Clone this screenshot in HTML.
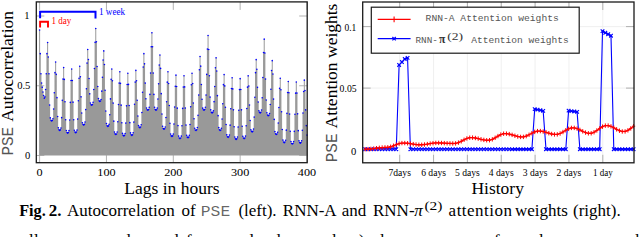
<!DOCTYPE html>
<html><head><meta charset="utf-8"><style>
html,body{margin:0;padding:0;background:#fff;width:640px;height:237px;overflow:hidden}
svg{display:block}

</style></head><body>
<svg width="640" height="237" viewBox="0 0 640 237">
<rect width="640" height="237" fill="#fff"/>
<path d="M39.10 155.50V29.95h1.0V155.50zM39.77 155.50V53.67h1.0V155.50zM40.44 155.50V73.75h1.0V155.50zM41.11 155.50V82.96h1.0V155.50zM41.77 155.50V87.14h1.0V155.50zM42.44 155.50V92.03h1.0V155.50zM43.11 155.50V95.52h1.0V155.50zM43.78 155.50V98.31h1.0V155.50zM44.45 155.50V96.91h1.0V155.50zM45.12 155.50V89.52h1.0V155.50zM45.79 155.50V73.75h1.0V155.50zM46.45 155.50V53.67h1.0V155.50zM47.12 155.50V42.50h1.0V155.50zM47.79 155.50V57.01h1.0V155.50zM48.46 155.50V73.75h1.0V155.50zM49.13 155.50V104.94h1.0V155.50zM49.80 155.50V117.90h1.0V155.50zM50.46 155.50V120.26h1.0V155.50zM51.13 155.50V121.04h1.0V155.50zM51.80 155.50V120.45h1.0V155.50zM52.47 155.50V118.68h1.0V155.50zM53.14 155.50V108.95h1.0V155.50zM53.81 155.50V92.72h1.0V155.50zM54.48 155.50V72.66h1.0V155.50zM55.14 155.50V62.03h1.0V155.50zM55.81 155.50V74.36h1.0V155.50zM56.48 155.50V97.65h1.0V155.50zM57.15 155.50V116.49h1.0V155.50zM57.82 155.50V127.79h1.0V155.50zM58.49 155.50V129.84h1.0V155.50zM59.16 155.50V130.53h1.0V155.50zM59.82 155.50V129.90h1.0V155.50zM60.49 155.50V128.01h1.0V155.50zM61.16 155.50V117.63h1.0V155.50zM61.83 155.50V100.33h1.0V155.50zM62.50 155.50V78.94h1.0V155.50zM63.17 155.50V67.61h1.0V155.50zM63.83 155.50V79.42h1.0V155.50zM64.50 155.50V101.71h1.0V155.50zM65.17 155.50V119.74h1.0V155.50zM65.84 155.50V130.56h1.0V155.50zM66.51 155.50V132.52h1.0V155.50zM67.18 155.50V133.18h1.0V155.50zM67.85 155.50V132.54h1.0V155.50zM68.51 155.50V130.61h1.0V155.50zM69.18 155.50V120.03h1.0V155.50zM69.85 155.50V102.38h1.0V155.50zM70.52 155.50V80.56h1.0V155.50zM71.19 155.50V69.01h1.0V155.50zM71.86 155.50V80.49h1.0V155.50zM72.53 155.50V102.16h1.0V155.50zM73.19 155.50V119.69h1.0V155.50zM73.86 155.50V130.21h1.0V155.50zM74.53 155.50V132.12h1.0V155.50zM75.20 155.50V132.76h1.0V155.50zM75.87 155.50V132.10h1.0V155.50zM76.54 155.50V130.10h1.0V155.50zM77.20 155.50V119.12h1.0V155.50zM77.87 155.50V100.82h1.0V155.50zM78.54 155.50V78.20h1.0V155.50zM79.21 155.50V66.22h1.0V155.50zM79.88 155.50V76.82h1.0V155.50zM80.55 155.50V96.83h1.0V155.50zM81.22 155.50V113.02h1.0V155.50zM81.88 155.50V122.73h1.0V155.50zM82.55 155.50V124.50h1.0V155.50zM83.22 155.50V125.09h1.0V155.50zM83.89 155.50V124.33h1.0V155.50zM84.56 155.50V122.06h1.0V155.50zM85.23 155.50V109.59h1.0V155.50zM85.90 155.50V88.80h1.0V155.50zM86.56 155.50V63.09h1.0V155.50zM87.23 155.50V49.48h1.0V155.50zM87.90 155.50V59.52h1.0V155.50zM88.57 155.50V78.50h1.0V155.50zM89.24 155.50V93.84h1.0V155.50zM89.91 155.50V103.05h1.0V155.50zM90.57 155.50V104.72h1.0V155.50zM91.24 155.50V105.28h1.0V155.50zM91.91 155.50V104.51h1.0V155.50zM92.58 155.50V102.21h1.0V155.50zM93.25 155.50V89.55h1.0V155.50zM93.92 155.50V68.45h1.0V155.50zM94.59 155.50V42.37h1.0V155.50zM95.25 155.50V28.56h1.0V155.50zM95.92 155.50V41.69h1.0V155.50zM96.59 155.50V66.49h1.0V155.50zM97.26 155.50V86.56h1.0V155.50zM97.93 155.50V98.60h1.0V155.50zM98.60 155.50V100.78h1.0V155.50zM99.27 155.50V101.51h1.0V155.50zM99.93 155.50V101.01h1.0V155.50zM100.60 155.50V99.49h1.0V155.50zM101.27 155.50V91.13h1.0V155.50zM101.94 155.50V77.21h1.0V155.50zM102.61 155.50V59.99h1.0V155.50zM103.28 155.50V50.88h1.0V155.50zM103.94 155.50V64.48h1.0V155.50zM104.61 155.50V90.19h1.0V155.50zM105.28 155.50V110.98h1.0V155.50zM105.95 155.50V123.46h1.0V155.50zM106.62 155.50V125.73h1.0V155.50zM107.29 155.50V126.48h1.0V155.50zM107.96 155.50V125.91h1.0V155.50zM108.62 155.50V124.19h1.0V155.50zM109.29 155.50V114.70h1.0V155.50zM109.96 155.50V98.90h1.0V155.50zM110.63 155.50V79.36h1.0V155.50zM111.30 155.50V69.01h1.0V155.50zM111.97 155.50V80.81h1.0V155.50zM112.63 155.50V103.10h1.0V155.50zM113.30 155.50V121.13h1.0V155.50zM113.97 155.50V131.95h1.0V155.50zM114.64 155.50V133.92h1.0V155.50zM115.31 155.50V134.57h1.0V155.50zM115.98 155.50V133.95h1.0V155.50zM116.65 155.50V132.06h1.0V155.50zM117.31 155.50V121.71h1.0V155.50zM117.98 155.50V104.44h1.0V155.50zM118.65 155.50V83.10h1.0V155.50zM119.32 155.50V71.80h1.0V155.50zM119.99 155.50V83.35h1.0V155.50zM120.66 155.50V105.17h1.0V155.50zM121.33 155.50V122.82h1.0V155.50zM121.99 155.50V133.40h1.0V155.50zM122.66 155.50V135.33h1.0V155.50zM123.33 155.50V135.97h1.0V155.50zM124.00 155.50V135.34h1.0V155.50zM124.67 155.50V133.46h1.0V155.50zM125.34 155.50V123.10h1.0V155.50zM126.00 155.50V105.84h1.0V155.50zM126.67 155.50V84.49h1.0V155.50zM127.34 155.50V73.20h1.0V155.50zM128.01 155.50V84.39h1.0V155.50zM128.68 155.50V105.55h1.0V155.50zM129.35 155.50V122.66h1.0V155.50zM130.02 155.50V132.92h1.0V155.50zM130.68 155.50V134.79h1.0V155.50zM131.35 155.50V135.41h1.0V155.50zM132.02 155.50V134.76h1.0V155.50zM132.69 155.50V132.81h1.0V155.50zM133.36 155.50V122.09h1.0V155.50zM134.03 155.50V104.21h1.0V155.50zM134.70 155.50V82.11h1.0V155.50zM135.36 155.50V70.41h1.0V155.50zM136.03 155.50V80.73h1.0V155.50zM136.70 155.50V100.22h1.0V155.50zM137.37 155.50V115.99h1.0V155.50zM138.04 155.50V125.45h1.0V155.50zM138.71 155.50V127.17h1.0V155.50zM139.38 155.50V127.74h1.0V155.50zM140.04 155.50V127.00h1.0V155.50zM140.71 155.50V124.78h1.0V155.50zM141.38 155.50V112.55h1.0V155.50zM142.05 155.50V92.18h1.0V155.50zM142.72 155.50V67.00h1.0V155.50zM143.39 155.50V53.67h1.0V155.50zM144.05 155.50V63.86h1.0V155.50zM144.72 155.50V83.12h1.0V155.50zM145.39 155.50V98.69h1.0V155.50zM146.06 155.50V108.04h1.0V155.50zM146.73 155.50V109.74h1.0V155.50zM147.40 155.50V110.30h1.0V155.50zM148.07 155.50V109.53h1.0V155.50zM148.73 155.50V107.20h1.0V155.50zM149.40 155.50V94.40h1.0V155.50zM150.07 155.50V73.07h1.0V155.50zM150.74 155.50V46.70h1.0V155.50zM151.41 155.50V32.74h1.0V155.50zM152.08 155.50V46.70h1.0V155.50zM152.75 155.50V73.07h1.0V155.50zM153.41 155.50V94.40h1.0V155.50zM154.08 155.50V107.20h1.0V155.50zM154.75 155.50V109.53h1.0V155.50zM155.42 155.50V110.30h1.0V155.50zM156.09 155.50V109.75h1.0V155.50zM156.76 155.50V108.09h1.0V155.50zM157.42 155.50V98.98h1.0V155.50zM158.09 155.50V83.79h1.0V155.50zM158.76 155.50V65.00h1.0V155.50zM159.43 155.50V55.06h1.0V155.50zM160.10 155.50V68.42h1.0V155.50zM160.77 155.50V93.65h1.0V155.50zM161.44 155.50V114.06h1.0V155.50zM162.10 155.50V126.31h1.0V155.50zM162.77 155.50V128.53h1.0V155.50zM163.44 155.50V129.27h1.0V155.50zM164.11 155.50V128.70h1.0V155.50zM164.78 155.50V126.98h1.0V155.50zM165.45 155.50V117.49h1.0V155.50zM166.12 155.50V101.69h1.0V155.50zM166.78 155.50V82.15h1.0V155.50zM167.45 155.50V71.80h1.0V155.50zM168.12 155.50V83.45h1.0V155.50zM168.79 155.50V105.46h1.0V155.50zM169.46 155.50V123.26h1.0V155.50zM170.13 155.50V133.94h1.0V155.50zM170.79 155.50V135.88h1.0V155.50zM171.46 155.50V136.53h1.0V155.50zM172.13 155.50V135.91h1.0V155.50zM172.80 155.50V134.07h1.0V155.50zM173.47 155.50V123.95h1.0V155.50zM174.14 155.50V107.07h1.0V155.50zM174.81 155.50V86.20h1.0V155.50zM175.47 155.50V75.15h1.0V155.50zM176.14 155.50V86.57h1.0V155.50zM176.81 155.50V108.15h1.0V155.50zM177.48 155.50V125.61h1.0V155.50zM178.15 155.50V136.08h1.0V155.50zM178.82 155.50V137.99h1.0V155.50zM179.48 155.50V138.62h1.0V155.50zM180.15 155.50V137.99h1.0V155.50zM180.82 155.50V136.10h1.0V155.50zM181.49 155.50V125.72h1.0V155.50zM182.16 155.50V108.42h1.0V155.50zM182.83 155.50V87.03h1.0V155.50zM183.50 155.50V75.71h1.0V155.50zM184.16 155.50V86.88h1.0V155.50zM184.83 155.50V107.99h1.0V155.50zM185.50 155.50V125.06h1.0V155.50zM186.17 155.50V135.30h1.0V155.50zM186.84 155.50V137.16h1.0V155.50zM187.51 155.50V137.78h1.0V155.50zM188.18 155.50V137.14h1.0V155.50zM188.84 155.50V135.20h1.0V155.50zM189.51 155.50V124.54h1.0V155.50zM190.18 155.50V106.78h1.0V155.50zM190.85 155.50V84.82h1.0V155.50zM191.52 155.50V73.20h1.0V155.50zM192.19 155.50V83.52h1.0V155.50zM192.85 155.50V103.01h1.0V155.50zM193.52 155.50V118.78h1.0V155.50zM194.19 155.50V128.24h1.0V155.50zM194.86 155.50V129.96h1.0V155.50zM195.53 155.50V130.53h1.0V155.50zM196.20 155.50V129.79h1.0V155.50zM196.87 155.50V127.57h1.0V155.50zM197.53 155.50V115.34h1.0V155.50zM198.20 155.50V94.97h1.0V155.50zM198.87 155.50V69.79h1.0V155.50zM199.54 155.50V56.45h1.0V155.50zM200.21 155.50V66.15h1.0V155.50zM200.88 155.50V84.46h1.0V155.50zM201.55 155.50V99.26h1.0V155.50zM202.21 155.50V108.15h1.0V155.50zM202.88 155.50V109.76h1.0V155.50zM203.55 155.50V110.30h1.0V155.50zM204.22 155.50V109.55h1.0V155.50zM204.89 155.50V107.31h1.0V155.50zM205.56 155.50V94.97h1.0V155.50zM206.22 155.50V74.41h1.0V155.50zM206.89 155.50V48.99h1.0V155.50zM207.56 155.50V35.53h1.0V155.50zM208.23 155.50V49.47h1.0V155.50zM208.90 155.50V75.79h1.0V155.50zM209.57 155.50V97.08h1.0V155.50zM210.24 155.50V109.86h1.0V155.50zM210.90 155.50V112.18h1.0V155.50zM211.57 155.50V112.95h1.0V155.50zM212.24 155.50V112.40h1.0V155.50zM212.91 155.50V110.75h1.0V155.50zM213.58 155.50V101.66h1.0V155.50zM214.25 155.50V86.50h1.0V155.50zM214.92 155.50V67.77h1.0V155.50zM215.58 155.50V57.85h1.0V155.50zM216.25 155.50V70.93h1.0V155.50zM216.92 155.50V95.64h1.0V155.50zM217.59 155.50V115.63h1.0V155.50zM218.26 155.50V127.62h1.0V155.50zM218.93 155.50V129.80h1.0V155.50zM219.59 155.50V130.53h1.0V155.50zM220.26 155.50V129.97h1.0V155.50zM220.93 155.50V128.29h1.0V155.50zM221.60 155.50V119.06h1.0V155.50zM222.27 155.50V103.68h1.0V155.50zM222.94 155.50V84.66h1.0V155.50zM223.61 155.50V74.59h1.0V155.50zM224.27 155.50V85.89h1.0V155.50zM224.94 155.50V107.23h1.0V155.50zM225.61 155.50V124.50h1.0V155.50zM226.28 155.50V134.85h1.0V155.50zM226.95 155.50V136.74h1.0V155.50zM227.62 155.50V137.37h1.0V155.50zM228.29 155.50V136.77h1.0V155.50zM228.95 155.50V134.98h1.0V155.50zM229.62 155.50V125.15h1.0V155.50zM230.29 155.50V108.77h1.0V155.50zM230.96 155.50V88.52h1.0V155.50zM231.63 155.50V77.80h1.0V155.50zM232.30 155.50V88.90h1.0V155.50zM232.97 155.50V109.86h1.0V155.50zM233.63 155.50V126.82h1.0V155.50zM234.30 155.50V136.99h1.0V155.50zM234.97 155.50V138.84h1.0V155.50zM235.64 155.50V139.46h1.0V155.50zM236.31 155.50V138.85h1.0V155.50zM236.98 155.50V137.02h1.0V155.50zM237.64 155.50V126.99h1.0V155.50zM238.31 155.50V110.26h1.0V155.50zM238.98 155.50V89.58h1.0V155.50zM239.65 155.50V78.64h1.0V155.50zM240.32 155.50V89.43h1.0V155.50zM240.99 155.50V109.83h1.0V155.50zM241.66 155.50V126.32h1.0V155.50zM242.32 155.50V136.22h1.0V155.50zM242.99 155.50V138.02h1.0V155.50zM243.66 155.50V138.62h1.0V155.50zM244.33 155.50V137.99h1.0V155.50zM245.00 155.50V136.11h1.0V155.50zM245.67 155.50V125.75h1.0V155.50zM246.33 155.50V108.49h1.0V155.50zM247.00 155.50V87.15h1.0V155.50zM247.67 155.50V75.85h1.0V155.50zM248.34 155.50V85.94h1.0V155.50zM249.01 155.50V105.01h1.0V155.50zM249.68 155.50V120.43h1.0V155.50zM250.35 155.50V129.68h1.0V155.50zM251.01 155.50V131.36h1.0V155.50zM251.68 155.50V131.92h1.0V155.50zM252.35 155.50V131.20h1.0V155.50zM253.02 155.50V129.03h1.0V155.50zM253.69 155.50V117.11h1.0V155.50zM254.36 155.50V97.24h1.0V155.50zM255.03 155.50V72.67h1.0V155.50zM255.69 155.50V59.66h1.0V155.50zM256.36 155.50V69.26h1.0V155.50zM257.03 155.50V87.37h1.0V155.50zM257.70 155.50V102.03h1.0V155.50zM258.37 155.50V110.82h1.0V155.50zM259.04 155.50V112.42h1.0V155.50zM259.70 155.50V112.95h1.0V155.50zM260.37 155.50V112.21h1.0V155.50zM261.04 155.50V110.00h1.0V155.50zM261.71 155.50V97.82h1.0V155.50zM262.38 155.50V77.53h1.0V155.50zM263.05 155.50V52.44h1.0V155.50zM263.72 155.50V39.16h1.0V155.50zM264.38 155.50V52.94h1.0V155.50zM265.05 155.50V78.98h1.0V155.50zM265.72 155.50V100.04h1.0V155.50zM266.39 155.50V112.68h1.0V155.50zM267.06 155.50V114.98h1.0V155.50zM267.73 155.50V115.74h1.0V155.50zM268.40 155.50V115.19h1.0V155.50zM269.06 155.50V113.54h1.0V155.50zM269.73 155.50V104.45h1.0V155.50zM270.40 155.50V89.29h1.0V155.50zM271.07 155.50V70.56h1.0V155.50zM271.74 155.50V60.64h1.0V155.50zM272.41 155.50V73.95h1.0V155.50zM273.07 155.50V99.09h1.0V155.50zM273.74 155.50V119.42h1.0V155.50zM274.41 155.50V131.62h1.0V155.50zM275.08 155.50V133.84h1.0V155.50zM275.75 155.50V134.57h1.0V155.50zM276.42 155.50V134.01h1.0V155.50zM277.09 155.50V132.32h1.0V155.50zM277.75 155.50V123.02h1.0V155.50zM278.42 155.50V107.52h1.0V155.50zM279.09 155.50V88.36h1.0V155.50zM279.76 155.50V78.22h1.0V155.50zM280.43 155.50V89.82h1.0V155.50zM281.10 155.50V111.73h1.0V155.50zM281.77 155.50V129.45h1.0V155.50zM282.43 155.50V140.09h1.0V155.50zM283.10 155.50V142.02h1.0V155.50zM283.77 155.50V142.67h1.0V155.50zM284.44 155.50V142.05h1.0V155.50zM285.11 155.50V140.22h1.0V155.50zM285.78 155.50V130.14h1.0V155.50zM286.44 155.50V113.34h1.0V155.50zM287.11 155.50V92.56h1.0V155.50zM287.78 155.50V81.56h1.0V155.50zM288.45 155.50V92.81h1.0V155.50zM289.12 155.50V114.06h1.0V155.50zM289.79 155.50V131.25h1.0V155.50zM290.46 155.50V141.56h1.0V155.50zM291.12 155.50V143.44h1.0V155.50zM291.79 155.50V144.06h1.0V155.50zM292.46 155.50V143.44h1.0V155.50zM293.13 155.50V141.58h1.0V155.50zM293.80 155.50V131.34h1.0V155.50zM294.47 155.50V114.26h1.0V155.50zM295.14 155.50V93.16h1.0V155.50zM295.80 155.50V81.98h1.0V155.50zM296.47 155.50V93.01h1.0V155.50zM297.14 155.50V113.83h1.0V155.50zM297.81 155.50V130.67h1.0V155.50zM298.48 155.50V140.77h1.0V155.50zM299.15 155.50V142.61h1.0V155.50zM299.81 155.50V143.22h1.0V155.50zM300.48 155.50V142.59h1.0V155.50zM301.15 155.50V140.70h1.0V155.50zM301.82 155.50V130.30h1.0V155.50zM302.49 155.50V112.96h1.0V155.50zM303.16 155.50V91.52h1.0V155.50zM303.83 155.50V80.17h1.0V155.50zM304.49 155.50V90.47h1.0V155.50zM305.16 155.50V109.91h1.0V155.50zM305.83 155.50V125.64h1.0V155.50zM306.50 155.50V135.08h1.0V155.50z" fill="#999999"/>
<path d="M38.80 29.95a0.8 0.8 0 1 0 1.6 0a0.8 0.8 0 1 0 -1.6 0M39.47 53.67a0.8 0.8 0 1 0 1.6 0a0.8 0.8 0 1 0 -1.6 0M40.14 73.75a0.8 0.8 0 1 0 1.6 0a0.8 0.8 0 1 0 -1.6 0M40.81 82.96a0.8 0.8 0 1 0 1.6 0a0.8 0.8 0 1 0 -1.6 0M41.47 87.14a0.8 0.8 0 1 0 1.6 0a0.8 0.8 0 1 0 -1.6 0M42.14 92.03a0.8 0.8 0 1 0 1.6 0a0.8 0.8 0 1 0 -1.6 0M42.81 95.52a0.8 0.8 0 1 0 1.6 0a0.8 0.8 0 1 0 -1.6 0M43.48 98.31a0.8 0.8 0 1 0 1.6 0a0.8 0.8 0 1 0 -1.6 0M44.15 96.91a0.8 0.8 0 1 0 1.6 0a0.8 0.8 0 1 0 -1.6 0M44.82 89.52a0.8 0.8 0 1 0 1.6 0a0.8 0.8 0 1 0 -1.6 0M45.49 73.75a0.8 0.8 0 1 0 1.6 0a0.8 0.8 0 1 0 -1.6 0M46.15 53.67a0.8 0.8 0 1 0 1.6 0a0.8 0.8 0 1 0 -1.6 0M46.82 42.50a0.8 0.8 0 1 0 1.6 0a0.8 0.8 0 1 0 -1.6 0M47.49 57.01a0.8 0.8 0 1 0 1.6 0a0.8 0.8 0 1 0 -1.6 0M48.16 73.75a0.8 0.8 0 1 0 1.6 0a0.8 0.8 0 1 0 -1.6 0M48.83 104.94a0.8 0.8 0 1 0 1.6 0a0.8 0.8 0 1 0 -1.6 0M49.50 117.90a0.8 0.8 0 1 0 1.6 0a0.8 0.8 0 1 0 -1.6 0M50.16 120.26a0.8 0.8 0 1 0 1.6 0a0.8 0.8 0 1 0 -1.6 0M50.83 121.04a0.8 0.8 0 1 0 1.6 0a0.8 0.8 0 1 0 -1.6 0M51.50 120.45a0.8 0.8 0 1 0 1.6 0a0.8 0.8 0 1 0 -1.6 0M52.17 118.68a0.8 0.8 0 1 0 1.6 0a0.8 0.8 0 1 0 -1.6 0M52.84 108.95a0.8 0.8 0 1 0 1.6 0a0.8 0.8 0 1 0 -1.6 0M53.51 92.72a0.8 0.8 0 1 0 1.6 0a0.8 0.8 0 1 0 -1.6 0M54.18 72.66a0.8 0.8 0 1 0 1.6 0a0.8 0.8 0 1 0 -1.6 0M54.84 62.03a0.8 0.8 0 1 0 1.6 0a0.8 0.8 0 1 0 -1.6 0M55.51 74.36a0.8 0.8 0 1 0 1.6 0a0.8 0.8 0 1 0 -1.6 0M56.18 97.65a0.8 0.8 0 1 0 1.6 0a0.8 0.8 0 1 0 -1.6 0M56.85 116.49a0.8 0.8 0 1 0 1.6 0a0.8 0.8 0 1 0 -1.6 0M57.52 127.79a0.8 0.8 0 1 0 1.6 0a0.8 0.8 0 1 0 -1.6 0M58.19 129.84a0.8 0.8 0 1 0 1.6 0a0.8 0.8 0 1 0 -1.6 0M58.86 130.53a0.8 0.8 0 1 0 1.6 0a0.8 0.8 0 1 0 -1.6 0M59.52 129.90a0.8 0.8 0 1 0 1.6 0a0.8 0.8 0 1 0 -1.6 0M60.19 128.01a0.8 0.8 0 1 0 1.6 0a0.8 0.8 0 1 0 -1.6 0M60.86 117.63a0.8 0.8 0 1 0 1.6 0a0.8 0.8 0 1 0 -1.6 0M61.53 100.33a0.8 0.8 0 1 0 1.6 0a0.8 0.8 0 1 0 -1.6 0M62.20 78.94a0.8 0.8 0 1 0 1.6 0a0.8 0.8 0 1 0 -1.6 0M62.87 67.61a0.8 0.8 0 1 0 1.6 0a0.8 0.8 0 1 0 -1.6 0M63.53 79.42a0.8 0.8 0 1 0 1.6 0a0.8 0.8 0 1 0 -1.6 0M64.20 101.71a0.8 0.8 0 1 0 1.6 0a0.8 0.8 0 1 0 -1.6 0M64.87 119.74a0.8 0.8 0 1 0 1.6 0a0.8 0.8 0 1 0 -1.6 0M65.54 130.56a0.8 0.8 0 1 0 1.6 0a0.8 0.8 0 1 0 -1.6 0M66.21 132.52a0.8 0.8 0 1 0 1.6 0a0.8 0.8 0 1 0 -1.6 0M66.88 133.18a0.8 0.8 0 1 0 1.6 0a0.8 0.8 0 1 0 -1.6 0M67.55 132.54a0.8 0.8 0 1 0 1.6 0a0.8 0.8 0 1 0 -1.6 0M68.21 130.61a0.8 0.8 0 1 0 1.6 0a0.8 0.8 0 1 0 -1.6 0M68.88 120.03a0.8 0.8 0 1 0 1.6 0a0.8 0.8 0 1 0 -1.6 0M69.55 102.38a0.8 0.8 0 1 0 1.6 0a0.8 0.8 0 1 0 -1.6 0M70.22 80.56a0.8 0.8 0 1 0 1.6 0a0.8 0.8 0 1 0 -1.6 0M70.89 69.01a0.8 0.8 0 1 0 1.6 0a0.8 0.8 0 1 0 -1.6 0M71.56 80.49a0.8 0.8 0 1 0 1.6 0a0.8 0.8 0 1 0 -1.6 0M72.23 102.16a0.8 0.8 0 1 0 1.6 0a0.8 0.8 0 1 0 -1.6 0M72.89 119.69a0.8 0.8 0 1 0 1.6 0a0.8 0.8 0 1 0 -1.6 0M73.56 130.21a0.8 0.8 0 1 0 1.6 0a0.8 0.8 0 1 0 -1.6 0M74.23 132.12a0.8 0.8 0 1 0 1.6 0a0.8 0.8 0 1 0 -1.6 0M74.90 132.76a0.8 0.8 0 1 0 1.6 0a0.8 0.8 0 1 0 -1.6 0M75.57 132.10a0.8 0.8 0 1 0 1.6 0a0.8 0.8 0 1 0 -1.6 0M76.24 130.10a0.8 0.8 0 1 0 1.6 0a0.8 0.8 0 1 0 -1.6 0M76.90 119.12a0.8 0.8 0 1 0 1.6 0a0.8 0.8 0 1 0 -1.6 0M77.57 100.82a0.8 0.8 0 1 0 1.6 0a0.8 0.8 0 1 0 -1.6 0M78.24 78.20a0.8 0.8 0 1 0 1.6 0a0.8 0.8 0 1 0 -1.6 0M78.91 66.22a0.8 0.8 0 1 0 1.6 0a0.8 0.8 0 1 0 -1.6 0M79.58 76.82a0.8 0.8 0 1 0 1.6 0a0.8 0.8 0 1 0 -1.6 0M80.25 96.83a0.8 0.8 0 1 0 1.6 0a0.8 0.8 0 1 0 -1.6 0M80.92 113.02a0.8 0.8 0 1 0 1.6 0a0.8 0.8 0 1 0 -1.6 0M81.58 122.73a0.8 0.8 0 1 0 1.6 0a0.8 0.8 0 1 0 -1.6 0M82.25 124.50a0.8 0.8 0 1 0 1.6 0a0.8 0.8 0 1 0 -1.6 0M82.92 125.09a0.8 0.8 0 1 0 1.6 0a0.8 0.8 0 1 0 -1.6 0M83.59 124.33a0.8 0.8 0 1 0 1.6 0a0.8 0.8 0 1 0 -1.6 0M84.26 122.06a0.8 0.8 0 1 0 1.6 0a0.8 0.8 0 1 0 -1.6 0M84.93 109.59a0.8 0.8 0 1 0 1.6 0a0.8 0.8 0 1 0 -1.6 0M85.60 88.80a0.8 0.8 0 1 0 1.6 0a0.8 0.8 0 1 0 -1.6 0M86.26 63.09a0.8 0.8 0 1 0 1.6 0a0.8 0.8 0 1 0 -1.6 0M86.93 49.48a0.8 0.8 0 1 0 1.6 0a0.8 0.8 0 1 0 -1.6 0M87.60 59.52a0.8 0.8 0 1 0 1.6 0a0.8 0.8 0 1 0 -1.6 0M88.27 78.50a0.8 0.8 0 1 0 1.6 0a0.8 0.8 0 1 0 -1.6 0M88.94 93.84a0.8 0.8 0 1 0 1.6 0a0.8 0.8 0 1 0 -1.6 0M89.61 103.05a0.8 0.8 0 1 0 1.6 0a0.8 0.8 0 1 0 -1.6 0M90.27 104.72a0.8 0.8 0 1 0 1.6 0a0.8 0.8 0 1 0 -1.6 0M90.94 105.28a0.8 0.8 0 1 0 1.6 0a0.8 0.8 0 1 0 -1.6 0M91.61 104.51a0.8 0.8 0 1 0 1.6 0a0.8 0.8 0 1 0 -1.6 0M92.28 102.21a0.8 0.8 0 1 0 1.6 0a0.8 0.8 0 1 0 -1.6 0M92.95 89.55a0.8 0.8 0 1 0 1.6 0a0.8 0.8 0 1 0 -1.6 0M93.62 68.45a0.8 0.8 0 1 0 1.6 0a0.8 0.8 0 1 0 -1.6 0M94.29 42.37a0.8 0.8 0 1 0 1.6 0a0.8 0.8 0 1 0 -1.6 0M94.95 28.56a0.8 0.8 0 1 0 1.6 0a0.8 0.8 0 1 0 -1.6 0M95.62 41.69a0.8 0.8 0 1 0 1.6 0a0.8 0.8 0 1 0 -1.6 0M96.29 66.49a0.8 0.8 0 1 0 1.6 0a0.8 0.8 0 1 0 -1.6 0M96.96 86.56a0.8 0.8 0 1 0 1.6 0a0.8 0.8 0 1 0 -1.6 0M97.63 98.60a0.8 0.8 0 1 0 1.6 0a0.8 0.8 0 1 0 -1.6 0M98.30 100.78a0.8 0.8 0 1 0 1.6 0a0.8 0.8 0 1 0 -1.6 0M98.97 101.51a0.8 0.8 0 1 0 1.6 0a0.8 0.8 0 1 0 -1.6 0M99.63 101.01a0.8 0.8 0 1 0 1.6 0a0.8 0.8 0 1 0 -1.6 0M100.30 99.49a0.8 0.8 0 1 0 1.6 0a0.8 0.8 0 1 0 -1.6 0M100.97 91.13a0.8 0.8 0 1 0 1.6 0a0.8 0.8 0 1 0 -1.6 0M101.64 77.21a0.8 0.8 0 1 0 1.6 0a0.8 0.8 0 1 0 -1.6 0M102.31 59.99a0.8 0.8 0 1 0 1.6 0a0.8 0.8 0 1 0 -1.6 0M102.98 50.88a0.8 0.8 0 1 0 1.6 0a0.8 0.8 0 1 0 -1.6 0M103.64 64.48a0.8 0.8 0 1 0 1.6 0a0.8 0.8 0 1 0 -1.6 0M104.31 90.19a0.8 0.8 0 1 0 1.6 0a0.8 0.8 0 1 0 -1.6 0M104.98 110.98a0.8 0.8 0 1 0 1.6 0a0.8 0.8 0 1 0 -1.6 0M105.65 123.46a0.8 0.8 0 1 0 1.6 0a0.8 0.8 0 1 0 -1.6 0M106.32 125.73a0.8 0.8 0 1 0 1.6 0a0.8 0.8 0 1 0 -1.6 0M106.99 126.48a0.8 0.8 0 1 0 1.6 0a0.8 0.8 0 1 0 -1.6 0M107.66 125.91a0.8 0.8 0 1 0 1.6 0a0.8 0.8 0 1 0 -1.6 0M108.32 124.19a0.8 0.8 0 1 0 1.6 0a0.8 0.8 0 1 0 -1.6 0M108.99 114.70a0.8 0.8 0 1 0 1.6 0a0.8 0.8 0 1 0 -1.6 0M109.66 98.90a0.8 0.8 0 1 0 1.6 0a0.8 0.8 0 1 0 -1.6 0M110.33 79.36a0.8 0.8 0 1 0 1.6 0a0.8 0.8 0 1 0 -1.6 0M111.00 69.01a0.8 0.8 0 1 0 1.6 0a0.8 0.8 0 1 0 -1.6 0M111.67 80.81a0.8 0.8 0 1 0 1.6 0a0.8 0.8 0 1 0 -1.6 0M112.33 103.10a0.8 0.8 0 1 0 1.6 0a0.8 0.8 0 1 0 -1.6 0M113.00 121.13a0.8 0.8 0 1 0 1.6 0a0.8 0.8 0 1 0 -1.6 0M113.67 131.95a0.8 0.8 0 1 0 1.6 0a0.8 0.8 0 1 0 -1.6 0M114.34 133.92a0.8 0.8 0 1 0 1.6 0a0.8 0.8 0 1 0 -1.6 0M115.01 134.57a0.8 0.8 0 1 0 1.6 0a0.8 0.8 0 1 0 -1.6 0M115.68 133.95a0.8 0.8 0 1 0 1.6 0a0.8 0.8 0 1 0 -1.6 0M116.35 132.06a0.8 0.8 0 1 0 1.6 0a0.8 0.8 0 1 0 -1.6 0M117.01 121.71a0.8 0.8 0 1 0 1.6 0a0.8 0.8 0 1 0 -1.6 0M117.68 104.44a0.8 0.8 0 1 0 1.6 0a0.8 0.8 0 1 0 -1.6 0M118.35 83.10a0.8 0.8 0 1 0 1.6 0a0.8 0.8 0 1 0 -1.6 0M119.02 71.80a0.8 0.8 0 1 0 1.6 0a0.8 0.8 0 1 0 -1.6 0M119.69 83.35a0.8 0.8 0 1 0 1.6 0a0.8 0.8 0 1 0 -1.6 0M120.36 105.17a0.8 0.8 0 1 0 1.6 0a0.8 0.8 0 1 0 -1.6 0M121.03 122.82a0.8 0.8 0 1 0 1.6 0a0.8 0.8 0 1 0 -1.6 0M121.69 133.40a0.8 0.8 0 1 0 1.6 0a0.8 0.8 0 1 0 -1.6 0M122.36 135.33a0.8 0.8 0 1 0 1.6 0a0.8 0.8 0 1 0 -1.6 0M123.03 135.97a0.8 0.8 0 1 0 1.6 0a0.8 0.8 0 1 0 -1.6 0M123.70 135.34a0.8 0.8 0 1 0 1.6 0a0.8 0.8 0 1 0 -1.6 0M124.37 133.46a0.8 0.8 0 1 0 1.6 0a0.8 0.8 0 1 0 -1.6 0M125.04 123.10a0.8 0.8 0 1 0 1.6 0a0.8 0.8 0 1 0 -1.6 0M125.70 105.84a0.8 0.8 0 1 0 1.6 0a0.8 0.8 0 1 0 -1.6 0M126.37 84.49a0.8 0.8 0 1 0 1.6 0a0.8 0.8 0 1 0 -1.6 0M127.04 73.20a0.8 0.8 0 1 0 1.6 0a0.8 0.8 0 1 0 -1.6 0M127.71 84.39a0.8 0.8 0 1 0 1.6 0a0.8 0.8 0 1 0 -1.6 0M128.38 105.55a0.8 0.8 0 1 0 1.6 0a0.8 0.8 0 1 0 -1.6 0M129.05 122.66a0.8 0.8 0 1 0 1.6 0a0.8 0.8 0 1 0 -1.6 0M129.72 132.92a0.8 0.8 0 1 0 1.6 0a0.8 0.8 0 1 0 -1.6 0M130.38 134.79a0.8 0.8 0 1 0 1.6 0a0.8 0.8 0 1 0 -1.6 0M131.05 135.41a0.8 0.8 0 1 0 1.6 0a0.8 0.8 0 1 0 -1.6 0M131.72 134.76a0.8 0.8 0 1 0 1.6 0a0.8 0.8 0 1 0 -1.6 0M132.39 132.81a0.8 0.8 0 1 0 1.6 0a0.8 0.8 0 1 0 -1.6 0M133.06 122.09a0.8 0.8 0 1 0 1.6 0a0.8 0.8 0 1 0 -1.6 0M133.73 104.21a0.8 0.8 0 1 0 1.6 0a0.8 0.8 0 1 0 -1.6 0M134.40 82.11a0.8 0.8 0 1 0 1.6 0a0.8 0.8 0 1 0 -1.6 0M135.06 70.41a0.8 0.8 0 1 0 1.6 0a0.8 0.8 0 1 0 -1.6 0M135.73 80.73a0.8 0.8 0 1 0 1.6 0a0.8 0.8 0 1 0 -1.6 0M136.40 100.22a0.8 0.8 0 1 0 1.6 0a0.8 0.8 0 1 0 -1.6 0M137.07 115.99a0.8 0.8 0 1 0 1.6 0a0.8 0.8 0 1 0 -1.6 0M137.74 125.45a0.8 0.8 0 1 0 1.6 0a0.8 0.8 0 1 0 -1.6 0M138.41 127.17a0.8 0.8 0 1 0 1.6 0a0.8 0.8 0 1 0 -1.6 0M139.07 127.74a0.8 0.8 0 1 0 1.6 0a0.8 0.8 0 1 0 -1.6 0M139.74 127.00a0.8 0.8 0 1 0 1.6 0a0.8 0.8 0 1 0 -1.6 0M140.41 124.78a0.8 0.8 0 1 0 1.6 0a0.8 0.8 0 1 0 -1.6 0M141.08 112.55a0.8 0.8 0 1 0 1.6 0a0.8 0.8 0 1 0 -1.6 0M141.75 92.18a0.8 0.8 0 1 0 1.6 0a0.8 0.8 0 1 0 -1.6 0M142.42 67.00a0.8 0.8 0 1 0 1.6 0a0.8 0.8 0 1 0 -1.6 0M143.09 53.67a0.8 0.8 0 1 0 1.6 0a0.8 0.8 0 1 0 -1.6 0M143.75 63.86a0.8 0.8 0 1 0 1.6 0a0.8 0.8 0 1 0 -1.6 0M144.42 83.12a0.8 0.8 0 1 0 1.6 0a0.8 0.8 0 1 0 -1.6 0M145.09 98.69a0.8 0.8 0 1 0 1.6 0a0.8 0.8 0 1 0 -1.6 0M145.76 108.04a0.8 0.8 0 1 0 1.6 0a0.8 0.8 0 1 0 -1.6 0M146.43 109.74a0.8 0.8 0 1 0 1.6 0a0.8 0.8 0 1 0 -1.6 0M147.10 110.30a0.8 0.8 0 1 0 1.6 0a0.8 0.8 0 1 0 -1.6 0M147.77 109.53a0.8 0.8 0 1 0 1.6 0a0.8 0.8 0 1 0 -1.6 0M148.43 107.20a0.8 0.8 0 1 0 1.6 0a0.8 0.8 0 1 0 -1.6 0M149.10 94.40a0.8 0.8 0 1 0 1.6 0a0.8 0.8 0 1 0 -1.6 0M149.77 73.07a0.8 0.8 0 1 0 1.6 0a0.8 0.8 0 1 0 -1.6 0M150.44 46.70a0.8 0.8 0 1 0 1.6 0a0.8 0.8 0 1 0 -1.6 0M151.11 32.74a0.8 0.8 0 1 0 1.6 0a0.8 0.8 0 1 0 -1.6 0M151.78 46.70a0.8 0.8 0 1 0 1.6 0a0.8 0.8 0 1 0 -1.6 0M152.44 73.07a0.8 0.8 0 1 0 1.6 0a0.8 0.8 0 1 0 -1.6 0M153.11 94.40a0.8 0.8 0 1 0 1.6 0a0.8 0.8 0 1 0 -1.6 0M153.78 107.20a0.8 0.8 0 1 0 1.6 0a0.8 0.8 0 1 0 -1.6 0M154.45 109.53a0.8 0.8 0 1 0 1.6 0a0.8 0.8 0 1 0 -1.6 0M155.12 110.30a0.8 0.8 0 1 0 1.6 0a0.8 0.8 0 1 0 -1.6 0M155.79 109.75a0.8 0.8 0 1 0 1.6 0a0.8 0.8 0 1 0 -1.6 0M156.46 108.09a0.8 0.8 0 1 0 1.6 0a0.8 0.8 0 1 0 -1.6 0M157.12 98.98a0.8 0.8 0 1 0 1.6 0a0.8 0.8 0 1 0 -1.6 0M157.79 83.79a0.8 0.8 0 1 0 1.6 0a0.8 0.8 0 1 0 -1.6 0M158.46 65.00a0.8 0.8 0 1 0 1.6 0a0.8 0.8 0 1 0 -1.6 0M159.13 55.06a0.8 0.8 0 1 0 1.6 0a0.8 0.8 0 1 0 -1.6 0M159.80 68.42a0.8 0.8 0 1 0 1.6 0a0.8 0.8 0 1 0 -1.6 0M160.47 93.65a0.8 0.8 0 1 0 1.6 0a0.8 0.8 0 1 0 -1.6 0M161.14 114.06a0.8 0.8 0 1 0 1.6 0a0.8 0.8 0 1 0 -1.6 0M161.80 126.31a0.8 0.8 0 1 0 1.6 0a0.8 0.8 0 1 0 -1.6 0M162.47 128.53a0.8 0.8 0 1 0 1.6 0a0.8 0.8 0 1 0 -1.6 0M163.14 129.27a0.8 0.8 0 1 0 1.6 0a0.8 0.8 0 1 0 -1.6 0M163.81 128.70a0.8 0.8 0 1 0 1.6 0a0.8 0.8 0 1 0 -1.6 0M164.48 126.98a0.8 0.8 0 1 0 1.6 0a0.8 0.8 0 1 0 -1.6 0M165.15 117.49a0.8 0.8 0 1 0 1.6 0a0.8 0.8 0 1 0 -1.6 0M165.81 101.69a0.8 0.8 0 1 0 1.6 0a0.8 0.8 0 1 0 -1.6 0M166.48 82.15a0.8 0.8 0 1 0 1.6 0a0.8 0.8 0 1 0 -1.6 0M167.15 71.80a0.8 0.8 0 1 0 1.6 0a0.8 0.8 0 1 0 -1.6 0M167.82 83.45a0.8 0.8 0 1 0 1.6 0a0.8 0.8 0 1 0 -1.6 0M168.49 105.46a0.8 0.8 0 1 0 1.6 0a0.8 0.8 0 1 0 -1.6 0M169.16 123.26a0.8 0.8 0 1 0 1.6 0a0.8 0.8 0 1 0 -1.6 0M169.83 133.94a0.8 0.8 0 1 0 1.6 0a0.8 0.8 0 1 0 -1.6 0M170.49 135.88a0.8 0.8 0 1 0 1.6 0a0.8 0.8 0 1 0 -1.6 0M171.16 136.53a0.8 0.8 0 1 0 1.6 0a0.8 0.8 0 1 0 -1.6 0M171.83 135.91a0.8 0.8 0 1 0 1.6 0a0.8 0.8 0 1 0 -1.6 0M172.50 134.07a0.8 0.8 0 1 0 1.6 0a0.8 0.8 0 1 0 -1.6 0M173.17 123.95a0.8 0.8 0 1 0 1.6 0a0.8 0.8 0 1 0 -1.6 0M173.84 107.07a0.8 0.8 0 1 0 1.6 0a0.8 0.8 0 1 0 -1.6 0M174.51 86.20a0.8 0.8 0 1 0 1.6 0a0.8 0.8 0 1 0 -1.6 0M175.17 75.15a0.8 0.8 0 1 0 1.6 0a0.8 0.8 0 1 0 -1.6 0M175.84 86.57a0.8 0.8 0 1 0 1.6 0a0.8 0.8 0 1 0 -1.6 0M176.51 108.15a0.8 0.8 0 1 0 1.6 0a0.8 0.8 0 1 0 -1.6 0M177.18 125.61a0.8 0.8 0 1 0 1.6 0a0.8 0.8 0 1 0 -1.6 0M177.85 136.08a0.8 0.8 0 1 0 1.6 0a0.8 0.8 0 1 0 -1.6 0M178.52 137.99a0.8 0.8 0 1 0 1.6 0a0.8 0.8 0 1 0 -1.6 0M179.18 138.62a0.8 0.8 0 1 0 1.6 0a0.8 0.8 0 1 0 -1.6 0M179.85 137.99a0.8 0.8 0 1 0 1.6 0a0.8 0.8 0 1 0 -1.6 0M180.52 136.10a0.8 0.8 0 1 0 1.6 0a0.8 0.8 0 1 0 -1.6 0M181.19 125.72a0.8 0.8 0 1 0 1.6 0a0.8 0.8 0 1 0 -1.6 0M181.86 108.42a0.8 0.8 0 1 0 1.6 0a0.8 0.8 0 1 0 -1.6 0M182.53 87.03a0.8 0.8 0 1 0 1.6 0a0.8 0.8 0 1 0 -1.6 0M183.20 75.71a0.8 0.8 0 1 0 1.6 0a0.8 0.8 0 1 0 -1.6 0M183.86 86.88a0.8 0.8 0 1 0 1.6 0a0.8 0.8 0 1 0 -1.6 0M184.53 107.99a0.8 0.8 0 1 0 1.6 0a0.8 0.8 0 1 0 -1.6 0M185.20 125.06a0.8 0.8 0 1 0 1.6 0a0.8 0.8 0 1 0 -1.6 0M185.87 135.30a0.8 0.8 0 1 0 1.6 0a0.8 0.8 0 1 0 -1.6 0M186.54 137.16a0.8 0.8 0 1 0 1.6 0a0.8 0.8 0 1 0 -1.6 0M187.21 137.78a0.8 0.8 0 1 0 1.6 0a0.8 0.8 0 1 0 -1.6 0M187.88 137.14a0.8 0.8 0 1 0 1.6 0a0.8 0.8 0 1 0 -1.6 0M188.54 135.20a0.8 0.8 0 1 0 1.6 0a0.8 0.8 0 1 0 -1.6 0M189.21 124.54a0.8 0.8 0 1 0 1.6 0a0.8 0.8 0 1 0 -1.6 0M189.88 106.78a0.8 0.8 0 1 0 1.6 0a0.8 0.8 0 1 0 -1.6 0M190.55 84.82a0.8 0.8 0 1 0 1.6 0a0.8 0.8 0 1 0 -1.6 0M191.22 73.20a0.8 0.8 0 1 0 1.6 0a0.8 0.8 0 1 0 -1.6 0M191.89 83.52a0.8 0.8 0 1 0 1.6 0a0.8 0.8 0 1 0 -1.6 0M192.55 103.01a0.8 0.8 0 1 0 1.6 0a0.8 0.8 0 1 0 -1.6 0M193.22 118.78a0.8 0.8 0 1 0 1.6 0a0.8 0.8 0 1 0 -1.6 0M193.89 128.24a0.8 0.8 0 1 0 1.6 0a0.8 0.8 0 1 0 -1.6 0M194.56 129.96a0.8 0.8 0 1 0 1.6 0a0.8 0.8 0 1 0 -1.6 0M195.23 130.53a0.8 0.8 0 1 0 1.6 0a0.8 0.8 0 1 0 -1.6 0M195.90 129.79a0.8 0.8 0 1 0 1.6 0a0.8 0.8 0 1 0 -1.6 0M196.57 127.57a0.8 0.8 0 1 0 1.6 0a0.8 0.8 0 1 0 -1.6 0M197.23 115.34a0.8 0.8 0 1 0 1.6 0a0.8 0.8 0 1 0 -1.6 0M197.90 94.97a0.8 0.8 0 1 0 1.6 0a0.8 0.8 0 1 0 -1.6 0M198.57 69.79a0.8 0.8 0 1 0 1.6 0a0.8 0.8 0 1 0 -1.6 0M199.24 56.45a0.8 0.8 0 1 0 1.6 0a0.8 0.8 0 1 0 -1.6 0M199.91 66.15a0.8 0.8 0 1 0 1.6 0a0.8 0.8 0 1 0 -1.6 0M200.58 84.46a0.8 0.8 0 1 0 1.6 0a0.8 0.8 0 1 0 -1.6 0M201.25 99.26a0.8 0.8 0 1 0 1.6 0a0.8 0.8 0 1 0 -1.6 0M201.91 108.15a0.8 0.8 0 1 0 1.6 0a0.8 0.8 0 1 0 -1.6 0M202.58 109.76a0.8 0.8 0 1 0 1.6 0a0.8 0.8 0 1 0 -1.6 0M203.25 110.30a0.8 0.8 0 1 0 1.6 0a0.8 0.8 0 1 0 -1.6 0M203.92 109.55a0.8 0.8 0 1 0 1.6 0a0.8 0.8 0 1 0 -1.6 0M204.59 107.31a0.8 0.8 0 1 0 1.6 0a0.8 0.8 0 1 0 -1.6 0M205.26 94.97a0.8 0.8 0 1 0 1.6 0a0.8 0.8 0 1 0 -1.6 0M205.92 74.41a0.8 0.8 0 1 0 1.6 0a0.8 0.8 0 1 0 -1.6 0M206.59 48.99a0.8 0.8 0 1 0 1.6 0a0.8 0.8 0 1 0 -1.6 0M207.26 35.53a0.8 0.8 0 1 0 1.6 0a0.8 0.8 0 1 0 -1.6 0M207.93 49.47a0.8 0.8 0 1 0 1.6 0a0.8 0.8 0 1 0 -1.6 0M208.60 75.79a0.8 0.8 0 1 0 1.6 0a0.8 0.8 0 1 0 -1.6 0M209.27 97.08a0.8 0.8 0 1 0 1.6 0a0.8 0.8 0 1 0 -1.6 0M209.94 109.86a0.8 0.8 0 1 0 1.6 0a0.8 0.8 0 1 0 -1.6 0M210.60 112.18a0.8 0.8 0 1 0 1.6 0a0.8 0.8 0 1 0 -1.6 0M211.27 112.95a0.8 0.8 0 1 0 1.6 0a0.8 0.8 0 1 0 -1.6 0M211.94 112.40a0.8 0.8 0 1 0 1.6 0a0.8 0.8 0 1 0 -1.6 0M212.61 110.75a0.8 0.8 0 1 0 1.6 0a0.8 0.8 0 1 0 -1.6 0M213.28 101.66a0.8 0.8 0 1 0 1.6 0a0.8 0.8 0 1 0 -1.6 0M213.95 86.50a0.8 0.8 0 1 0 1.6 0a0.8 0.8 0 1 0 -1.6 0M214.62 67.77a0.8 0.8 0 1 0 1.6 0a0.8 0.8 0 1 0 -1.6 0M215.28 57.85a0.8 0.8 0 1 0 1.6 0a0.8 0.8 0 1 0 -1.6 0M215.95 70.93a0.8 0.8 0 1 0 1.6 0a0.8 0.8 0 1 0 -1.6 0M216.62 95.64a0.8 0.8 0 1 0 1.6 0a0.8 0.8 0 1 0 -1.6 0M217.29 115.63a0.8 0.8 0 1 0 1.6 0a0.8 0.8 0 1 0 -1.6 0M217.96 127.62a0.8 0.8 0 1 0 1.6 0a0.8 0.8 0 1 0 -1.6 0M218.63 129.80a0.8 0.8 0 1 0 1.6 0a0.8 0.8 0 1 0 -1.6 0M219.29 130.53a0.8 0.8 0 1 0 1.6 0a0.8 0.8 0 1 0 -1.6 0M219.96 129.97a0.8 0.8 0 1 0 1.6 0a0.8 0.8 0 1 0 -1.6 0M220.63 128.29a0.8 0.8 0 1 0 1.6 0a0.8 0.8 0 1 0 -1.6 0M221.30 119.06a0.8 0.8 0 1 0 1.6 0a0.8 0.8 0 1 0 -1.6 0M221.97 103.68a0.8 0.8 0 1 0 1.6 0a0.8 0.8 0 1 0 -1.6 0M222.64 84.66a0.8 0.8 0 1 0 1.6 0a0.8 0.8 0 1 0 -1.6 0M223.31 74.59a0.8 0.8 0 1 0 1.6 0a0.8 0.8 0 1 0 -1.6 0M223.97 85.89a0.8 0.8 0 1 0 1.6 0a0.8 0.8 0 1 0 -1.6 0M224.64 107.23a0.8 0.8 0 1 0 1.6 0a0.8 0.8 0 1 0 -1.6 0M225.31 124.50a0.8 0.8 0 1 0 1.6 0a0.8 0.8 0 1 0 -1.6 0M225.98 134.85a0.8 0.8 0 1 0 1.6 0a0.8 0.8 0 1 0 -1.6 0M226.65 136.74a0.8 0.8 0 1 0 1.6 0a0.8 0.8 0 1 0 -1.6 0M227.32 137.37a0.8 0.8 0 1 0 1.6 0a0.8 0.8 0 1 0 -1.6 0M227.99 136.77a0.8 0.8 0 1 0 1.6 0a0.8 0.8 0 1 0 -1.6 0M228.65 134.98a0.8 0.8 0 1 0 1.6 0a0.8 0.8 0 1 0 -1.6 0M229.32 125.15a0.8 0.8 0 1 0 1.6 0a0.8 0.8 0 1 0 -1.6 0M229.99 108.77a0.8 0.8 0 1 0 1.6 0a0.8 0.8 0 1 0 -1.6 0M230.66 88.52a0.8 0.8 0 1 0 1.6 0a0.8 0.8 0 1 0 -1.6 0M231.33 77.80a0.8 0.8 0 1 0 1.6 0a0.8 0.8 0 1 0 -1.6 0M232.00 88.90a0.8 0.8 0 1 0 1.6 0a0.8 0.8 0 1 0 -1.6 0M232.66 109.86a0.8 0.8 0 1 0 1.6 0a0.8 0.8 0 1 0 -1.6 0M233.33 126.82a0.8 0.8 0 1 0 1.6 0a0.8 0.8 0 1 0 -1.6 0M234.00 136.99a0.8 0.8 0 1 0 1.6 0a0.8 0.8 0 1 0 -1.6 0M234.67 138.84a0.8 0.8 0 1 0 1.6 0a0.8 0.8 0 1 0 -1.6 0M235.34 139.46a0.8 0.8 0 1 0 1.6 0a0.8 0.8 0 1 0 -1.6 0M236.01 138.85a0.8 0.8 0 1 0 1.6 0a0.8 0.8 0 1 0 -1.6 0M236.68 137.02a0.8 0.8 0 1 0 1.6 0a0.8 0.8 0 1 0 -1.6 0M237.34 126.99a0.8 0.8 0 1 0 1.6 0a0.8 0.8 0 1 0 -1.6 0M238.01 110.26a0.8 0.8 0 1 0 1.6 0a0.8 0.8 0 1 0 -1.6 0M238.68 89.58a0.8 0.8 0 1 0 1.6 0a0.8 0.8 0 1 0 -1.6 0M239.35 78.64a0.8 0.8 0 1 0 1.6 0a0.8 0.8 0 1 0 -1.6 0M240.02 89.43a0.8 0.8 0 1 0 1.6 0a0.8 0.8 0 1 0 -1.6 0M240.69 109.83a0.8 0.8 0 1 0 1.6 0a0.8 0.8 0 1 0 -1.6 0M241.36 126.32a0.8 0.8 0 1 0 1.6 0a0.8 0.8 0 1 0 -1.6 0M242.02 136.22a0.8 0.8 0 1 0 1.6 0a0.8 0.8 0 1 0 -1.6 0M242.69 138.02a0.8 0.8 0 1 0 1.6 0a0.8 0.8 0 1 0 -1.6 0M243.36 138.62a0.8 0.8 0 1 0 1.6 0a0.8 0.8 0 1 0 -1.6 0M244.03 137.99a0.8 0.8 0 1 0 1.6 0a0.8 0.8 0 1 0 -1.6 0M244.70 136.11a0.8 0.8 0 1 0 1.6 0a0.8 0.8 0 1 0 -1.6 0M245.37 125.75a0.8 0.8 0 1 0 1.6 0a0.8 0.8 0 1 0 -1.6 0M246.03 108.49a0.8 0.8 0 1 0 1.6 0a0.8 0.8 0 1 0 -1.6 0M246.70 87.15a0.8 0.8 0 1 0 1.6 0a0.8 0.8 0 1 0 -1.6 0M247.37 75.85a0.8 0.8 0 1 0 1.6 0a0.8 0.8 0 1 0 -1.6 0M248.04 85.94a0.8 0.8 0 1 0 1.6 0a0.8 0.8 0 1 0 -1.6 0M248.71 105.01a0.8 0.8 0 1 0 1.6 0a0.8 0.8 0 1 0 -1.6 0M249.38 120.43a0.8 0.8 0 1 0 1.6 0a0.8 0.8 0 1 0 -1.6 0M250.05 129.68a0.8 0.8 0 1 0 1.6 0a0.8 0.8 0 1 0 -1.6 0M250.71 131.36a0.8 0.8 0 1 0 1.6 0a0.8 0.8 0 1 0 -1.6 0M251.38 131.92a0.8 0.8 0 1 0 1.6 0a0.8 0.8 0 1 0 -1.6 0M252.05 131.20a0.8 0.8 0 1 0 1.6 0a0.8 0.8 0 1 0 -1.6 0M252.72 129.03a0.8 0.8 0 1 0 1.6 0a0.8 0.8 0 1 0 -1.6 0M253.39 117.11a0.8 0.8 0 1 0 1.6 0a0.8 0.8 0 1 0 -1.6 0M254.06 97.24a0.8 0.8 0 1 0 1.6 0a0.8 0.8 0 1 0 -1.6 0M254.73 72.67a0.8 0.8 0 1 0 1.6 0a0.8 0.8 0 1 0 -1.6 0M255.39 59.66a0.8 0.8 0 1 0 1.6 0a0.8 0.8 0 1 0 -1.6 0M256.06 69.26a0.8 0.8 0 1 0 1.6 0a0.8 0.8 0 1 0 -1.6 0M256.73 87.37a0.8 0.8 0 1 0 1.6 0a0.8 0.8 0 1 0 -1.6 0M257.40 102.03a0.8 0.8 0 1 0 1.6 0a0.8 0.8 0 1 0 -1.6 0M258.07 110.82a0.8 0.8 0 1 0 1.6 0a0.8 0.8 0 1 0 -1.6 0M258.74 112.42a0.8 0.8 0 1 0 1.6 0a0.8 0.8 0 1 0 -1.6 0M259.40 112.95a0.8 0.8 0 1 0 1.6 0a0.8 0.8 0 1 0 -1.6 0M260.07 112.21a0.8 0.8 0 1 0 1.6 0a0.8 0.8 0 1 0 -1.6 0M260.74 110.00a0.8 0.8 0 1 0 1.6 0a0.8 0.8 0 1 0 -1.6 0M261.41 97.82a0.8 0.8 0 1 0 1.6 0a0.8 0.8 0 1 0 -1.6 0M262.08 77.53a0.8 0.8 0 1 0 1.6 0a0.8 0.8 0 1 0 -1.6 0M262.75 52.44a0.8 0.8 0 1 0 1.6 0a0.8 0.8 0 1 0 -1.6 0M263.42 39.16a0.8 0.8 0 1 0 1.6 0a0.8 0.8 0 1 0 -1.6 0M264.08 52.94a0.8 0.8 0 1 0 1.6 0a0.8 0.8 0 1 0 -1.6 0M264.75 78.98a0.8 0.8 0 1 0 1.6 0a0.8 0.8 0 1 0 -1.6 0M265.42 100.04a0.8 0.8 0 1 0 1.6 0a0.8 0.8 0 1 0 -1.6 0M266.09 112.68a0.8 0.8 0 1 0 1.6 0a0.8 0.8 0 1 0 -1.6 0M266.76 114.98a0.8 0.8 0 1 0 1.6 0a0.8 0.8 0 1 0 -1.6 0M267.43 115.74a0.8 0.8 0 1 0 1.6 0a0.8 0.8 0 1 0 -1.6 0M268.10 115.19a0.8 0.8 0 1 0 1.6 0a0.8 0.8 0 1 0 -1.6 0M268.76 113.54a0.8 0.8 0 1 0 1.6 0a0.8 0.8 0 1 0 -1.6 0M269.43 104.45a0.8 0.8 0 1 0 1.6 0a0.8 0.8 0 1 0 -1.6 0M270.10 89.29a0.8 0.8 0 1 0 1.6 0a0.8 0.8 0 1 0 -1.6 0M270.77 70.56a0.8 0.8 0 1 0 1.6 0a0.8 0.8 0 1 0 -1.6 0M271.44 60.64a0.8 0.8 0 1 0 1.6 0a0.8 0.8 0 1 0 -1.6 0M272.11 73.95a0.8 0.8 0 1 0 1.6 0a0.8 0.8 0 1 0 -1.6 0M272.77 99.09a0.8 0.8 0 1 0 1.6 0a0.8 0.8 0 1 0 -1.6 0M273.44 119.42a0.8 0.8 0 1 0 1.6 0a0.8 0.8 0 1 0 -1.6 0M274.11 131.62a0.8 0.8 0 1 0 1.6 0a0.8 0.8 0 1 0 -1.6 0M274.78 133.84a0.8 0.8 0 1 0 1.6 0a0.8 0.8 0 1 0 -1.6 0M275.45 134.57a0.8 0.8 0 1 0 1.6 0a0.8 0.8 0 1 0 -1.6 0M276.12 134.01a0.8 0.8 0 1 0 1.6 0a0.8 0.8 0 1 0 -1.6 0M276.79 132.32a0.8 0.8 0 1 0 1.6 0a0.8 0.8 0 1 0 -1.6 0M277.45 123.02a0.8 0.8 0 1 0 1.6 0a0.8 0.8 0 1 0 -1.6 0M278.12 107.52a0.8 0.8 0 1 0 1.6 0a0.8 0.8 0 1 0 -1.6 0M278.79 88.36a0.8 0.8 0 1 0 1.6 0a0.8 0.8 0 1 0 -1.6 0M279.46 78.22a0.8 0.8 0 1 0 1.6 0a0.8 0.8 0 1 0 -1.6 0M280.13 89.82a0.8 0.8 0 1 0 1.6 0a0.8 0.8 0 1 0 -1.6 0M280.80 111.73a0.8 0.8 0 1 0 1.6 0a0.8 0.8 0 1 0 -1.6 0M281.47 129.45a0.8 0.8 0 1 0 1.6 0a0.8 0.8 0 1 0 -1.6 0M282.13 140.09a0.8 0.8 0 1 0 1.6 0a0.8 0.8 0 1 0 -1.6 0M282.80 142.02a0.8 0.8 0 1 0 1.6 0a0.8 0.8 0 1 0 -1.6 0M283.47 142.67a0.8 0.8 0 1 0 1.6 0a0.8 0.8 0 1 0 -1.6 0M284.14 142.05a0.8 0.8 0 1 0 1.6 0a0.8 0.8 0 1 0 -1.6 0M284.81 140.22a0.8 0.8 0 1 0 1.6 0a0.8 0.8 0 1 0 -1.6 0M285.48 130.14a0.8 0.8 0 1 0 1.6 0a0.8 0.8 0 1 0 -1.6 0M286.14 113.34a0.8 0.8 0 1 0 1.6 0a0.8 0.8 0 1 0 -1.6 0M286.81 92.56a0.8 0.8 0 1 0 1.6 0a0.8 0.8 0 1 0 -1.6 0M287.48 81.56a0.8 0.8 0 1 0 1.6 0a0.8 0.8 0 1 0 -1.6 0M288.15 92.81a0.8 0.8 0 1 0 1.6 0a0.8 0.8 0 1 0 -1.6 0M288.82 114.06a0.8 0.8 0 1 0 1.6 0a0.8 0.8 0 1 0 -1.6 0M289.49 131.25a0.8 0.8 0 1 0 1.6 0a0.8 0.8 0 1 0 -1.6 0M290.16 141.56a0.8 0.8 0 1 0 1.6 0a0.8 0.8 0 1 0 -1.6 0M290.82 143.44a0.8 0.8 0 1 0 1.6 0a0.8 0.8 0 1 0 -1.6 0M291.49 144.06a0.8 0.8 0 1 0 1.6 0a0.8 0.8 0 1 0 -1.6 0M292.16 143.44a0.8 0.8 0 1 0 1.6 0a0.8 0.8 0 1 0 -1.6 0M292.83 141.58a0.8 0.8 0 1 0 1.6 0a0.8 0.8 0 1 0 -1.6 0M293.50 131.34a0.8 0.8 0 1 0 1.6 0a0.8 0.8 0 1 0 -1.6 0M294.17 114.26a0.8 0.8 0 1 0 1.6 0a0.8 0.8 0 1 0 -1.6 0M294.84 93.16a0.8 0.8 0 1 0 1.6 0a0.8 0.8 0 1 0 -1.6 0M295.50 81.98a0.8 0.8 0 1 0 1.6 0a0.8 0.8 0 1 0 -1.6 0M296.17 93.01a0.8 0.8 0 1 0 1.6 0a0.8 0.8 0 1 0 -1.6 0M296.84 113.83a0.8 0.8 0 1 0 1.6 0a0.8 0.8 0 1 0 -1.6 0M297.51 130.67a0.8 0.8 0 1 0 1.6 0a0.8 0.8 0 1 0 -1.6 0M298.18 140.77a0.8 0.8 0 1 0 1.6 0a0.8 0.8 0 1 0 -1.6 0M298.85 142.61a0.8 0.8 0 1 0 1.6 0a0.8 0.8 0 1 0 -1.6 0M299.51 143.22a0.8 0.8 0 1 0 1.6 0a0.8 0.8 0 1 0 -1.6 0M300.18 142.59a0.8 0.8 0 1 0 1.6 0a0.8 0.8 0 1 0 -1.6 0M300.85 140.70a0.8 0.8 0 1 0 1.6 0a0.8 0.8 0 1 0 -1.6 0M301.52 130.30a0.8 0.8 0 1 0 1.6 0a0.8 0.8 0 1 0 -1.6 0M302.19 112.96a0.8 0.8 0 1 0 1.6 0a0.8 0.8 0 1 0 -1.6 0M302.86 91.52a0.8 0.8 0 1 0 1.6 0a0.8 0.8 0 1 0 -1.6 0M303.53 80.17a0.8 0.8 0 1 0 1.6 0a0.8 0.8 0 1 0 -1.6 0M304.19 90.47a0.8 0.8 0 1 0 1.6 0a0.8 0.8 0 1 0 -1.6 0M304.86 109.91a0.8 0.8 0 1 0 1.6 0a0.8 0.8 0 1 0 -1.6 0M305.53 125.64a0.8 0.8 0 1 0 1.6 0a0.8 0.8 0 1 0 -1.6 0M306.20 135.08a0.8 0.8 0 1 0 1.6 0a0.8 0.8 0 1 0 -1.6 0" fill="#0000ff"/>
<path d="M39.60 162.7v-8M39.60 1.9v8M106.45 162.7v-8M106.45 1.9v8M173.30 162.7v-8M173.30 1.9v8M240.15 162.7v-8M240.15 1.9v8M307.00 162.7v-8M307.00 1.9v8M36.3 155.50h8M307.2 155.50h-8M36.3 85.75h8M307.2 85.75h-8M36.3 16.00h8M307.2 16.00h-8" stroke="#a0a0a0" stroke-width="0.8" fill="none"/>
<rect x="36.3" y="1.9" width="270.90" height="160.80" fill="none" stroke="#1a1a1a" stroke-width="1.3"/>
<path d="M40.1 18.3V11.8H95.5V18.6" stroke="#0000ff" stroke-width="2" fill="none"/>
<path d="M40.1 27.5V21.8H48V27.5" stroke="#ff0000" stroke-width="1.9" fill="none"/>
<text x="51.4" y="24.1" font-family="Liberation Serif" font-size="10.3" fill="#ff0000" textLength="19.8" lengthAdjust="spacingAndGlyphs">1 day</text>
<text x="99.0" y="15.0" font-family="Liberation Serif" font-size="10.3" fill="#0000ff" textLength="26.2" lengthAdjust="spacingAndGlyphs">1 week</text>
<text x="39.60" y="175.6" font-family="Liberation Serif" font-size="10.6" text-anchor="middle" fill="#000" textLength="6.1" lengthAdjust="spacingAndGlyphs">0</text>
<text x="106.45" y="175.6" font-family="Liberation Serif" font-size="10.6" text-anchor="middle" fill="#000" textLength="18.3" lengthAdjust="spacingAndGlyphs">100</text>
<text x="173.30" y="175.6" font-family="Liberation Serif" font-size="10.6" text-anchor="middle" fill="#000" textLength="18.3" lengthAdjust="spacingAndGlyphs">200</text>
<text x="240.15" y="175.6" font-family="Liberation Serif" font-size="10.6" text-anchor="middle" fill="#000" textLength="18.3" lengthAdjust="spacingAndGlyphs">300</text>
<text x="307.00" y="175.6" font-family="Liberation Serif" font-size="10.6" text-anchor="middle" fill="#000" textLength="18.3" lengthAdjust="spacingAndGlyphs">400</text>
<text x="30.4" y="159.1" font-family="Liberation Serif" font-size="10.6" text-anchor="end" fill="#000">0</text>
<text x="30.4" y="89.2" font-family="Liberation Serif" font-size="10.6" text-anchor="end" fill="#000">0.5</text>
<text x="29.6" y="19.2" font-family="Liberation Serif" font-size="10.6" text-anchor="end" fill="#000">1</text>
<text x="172" y="194.3" font-family="Liberation Serif" font-size="17.5" text-anchor="middle" fill="#000">Lags in hours</text>
<g transform="translate(12.8 155.6) rotate(-90)"><text x="0" y="0" font-size="17.5" fill="#000"><tspan font-family="Liberation Mono" font-size="16" fill="#555">PSE</tspan><tspan font-family="Liberation Serif" dx="5">Autocorrelation</tspan></text></g>
<path d="M399.70 162.8V2.0M433.55 162.8V2.0M467.40 162.8V2.0M501.25 162.8V2.0M535.10 162.8V2.0M568.95 162.8V2.0M602.80 162.8V2.0M362.7 88.10H634.0M362.7 26.60H634.0" stroke="#eeeeee" stroke-width="0.9" fill="none"/>
<path d="M399.70 162.8v-8M399.70 2.0v8M433.55 162.8v-8M433.55 2.0v8M467.40 162.8v-8M467.40 2.0v8M501.25 162.8v-8M501.25 2.0v8M535.10 162.8v-8M535.10 2.0v8M568.95 162.8v-8M568.95 2.0v8M602.80 162.8v-8M602.80 2.0v8M362.7 149.60h8M634.0 149.60h-8M362.7 88.10h8M634.0 88.10h-8M362.7 26.60h8M634.0 26.60h-8" stroke="#a0a0a0" stroke-width="0.8" fill="none"/>
<polyline points="365.20,149.23 368.02,149.23 370.85,149.23 373.68,149.23 376.50,149.23 379.32,149.23 382.15,149.23 384.97,149.23 387.80,149.23 390.62,149.23 393.45,149.23 396.27,149.23 399.10,64.98 401.93,62.02 404.75,59.07 407.57,57.84 410.40,149.23 413.23,149.23 416.05,149.23 418.88,149.23 421.70,149.23 424.52,149.23 427.35,149.23 430.18,149.23 433.00,149.23 435.82,149.23 438.65,149.23 441.48,149.23 444.30,149.23 447.12,149.23 449.95,149.23 452.77,149.23 455.60,149.23 458.43,149.23 461.25,149.23 464.07,149.23 466.90,149.23 469.73,149.23 472.55,149.23 475.38,149.23 478.20,149.23 481.02,149.23 483.85,149.23 486.68,149.23 489.50,149.23 492.32,149.23 495.15,149.23 497.98,149.23 500.80,149.23 503.62,149.23 506.45,149.23 509.27,149.23 512.10,149.23 514.92,149.23 517.75,149.23 520.58,149.23 523.40,149.23 526.23,149.23 529.05,149.23 531.88,149.23 534.70,109.13 537.52,109.62 540.35,110.24 543.17,110.85 546.00,149.23 548.83,149.23 551.65,149.23 554.48,149.23 557.30,149.23 560.12,149.23 562.95,149.23 565.77,149.23 568.60,110.61 571.42,111.10 574.25,111.47 577.08,111.84 579.90,149.23 582.73,149.23 585.55,149.23 588.38,149.23 591.20,149.23 594.02,149.23 596.85,149.23 599.67,149.23 602.50,31.15 605.33,32.75 608.15,34.23 610.98,35.70 613.80,149.23 616.62,149.23 619.45,149.23 622.27,149.23 625.10,149.23 627.92,149.23 630.75,149.23 633.58,149.23" fill="none" stroke="#0000ff" stroke-width="1.1"/>
<path d="M363.40 147.43l3.6 3.6m0 -3.6l-3.6 3.6M366.22 147.43l3.6 3.6m0 -3.6l-3.6 3.6M369.05 147.43l3.6 3.6m0 -3.6l-3.6 3.6M371.88 147.43l3.6 3.6m0 -3.6l-3.6 3.6M374.70 147.43l3.6 3.6m0 -3.6l-3.6 3.6M377.52 147.43l3.6 3.6m0 -3.6l-3.6 3.6M380.35 147.43l3.6 3.6m0 -3.6l-3.6 3.6M383.17 147.43l3.6 3.6m0 -3.6l-3.6 3.6M386.00 147.43l3.6 3.6m0 -3.6l-3.6 3.6M388.82 147.43l3.6 3.6m0 -3.6l-3.6 3.6M391.65 147.43l3.6 3.6m0 -3.6l-3.6 3.6M394.47 147.43l3.6 3.6m0 -3.6l-3.6 3.6M397.30 63.18l3.6 3.6m0 -3.6l-3.6 3.6M400.12 60.22l3.6 3.6m0 -3.6l-3.6 3.6M402.95 57.27l3.6 3.6m0 -3.6l-3.6 3.6M405.77 56.04l3.6 3.6m0 -3.6l-3.6 3.6M408.60 147.43l3.6 3.6m0 -3.6l-3.6 3.6M411.43 147.43l3.6 3.6m0 -3.6l-3.6 3.6M414.25 147.43l3.6 3.6m0 -3.6l-3.6 3.6M417.07 147.43l3.6 3.6m0 -3.6l-3.6 3.6M419.90 147.43l3.6 3.6m0 -3.6l-3.6 3.6M422.72 147.43l3.6 3.6m0 -3.6l-3.6 3.6M425.55 147.43l3.6 3.6m0 -3.6l-3.6 3.6M428.38 147.43l3.6 3.6m0 -3.6l-3.6 3.6M431.20 147.43l3.6 3.6m0 -3.6l-3.6 3.6M434.02 147.43l3.6 3.6m0 -3.6l-3.6 3.6M436.85 147.43l3.6 3.6m0 -3.6l-3.6 3.6M439.68 147.43l3.6 3.6m0 -3.6l-3.6 3.6M442.50 147.43l3.6 3.6m0 -3.6l-3.6 3.6M445.32 147.43l3.6 3.6m0 -3.6l-3.6 3.6M448.15 147.43l3.6 3.6m0 -3.6l-3.6 3.6M450.97 147.43l3.6 3.6m0 -3.6l-3.6 3.6M453.80 147.43l3.6 3.6m0 -3.6l-3.6 3.6M456.62 147.43l3.6 3.6m0 -3.6l-3.6 3.6M459.45 147.43l3.6 3.6m0 -3.6l-3.6 3.6M462.27 147.43l3.6 3.6m0 -3.6l-3.6 3.6M465.10 147.43l3.6 3.6m0 -3.6l-3.6 3.6M467.93 147.43l3.6 3.6m0 -3.6l-3.6 3.6M470.75 147.43l3.6 3.6m0 -3.6l-3.6 3.6M473.57 147.43l3.6 3.6m0 -3.6l-3.6 3.6M476.40 147.43l3.6 3.6m0 -3.6l-3.6 3.6M479.22 147.43l3.6 3.6m0 -3.6l-3.6 3.6M482.05 147.43l3.6 3.6m0 -3.6l-3.6 3.6M484.88 147.43l3.6 3.6m0 -3.6l-3.6 3.6M487.70 147.43l3.6 3.6m0 -3.6l-3.6 3.6M490.52 147.43l3.6 3.6m0 -3.6l-3.6 3.6M493.35 147.43l3.6 3.6m0 -3.6l-3.6 3.6M496.18 147.43l3.6 3.6m0 -3.6l-3.6 3.6M499.00 147.43l3.6 3.6m0 -3.6l-3.6 3.6M501.82 147.43l3.6 3.6m0 -3.6l-3.6 3.6M504.65 147.43l3.6 3.6m0 -3.6l-3.6 3.6M507.47 147.43l3.6 3.6m0 -3.6l-3.6 3.6M510.30 147.43l3.6 3.6m0 -3.6l-3.6 3.6M513.12 147.43l3.6 3.6m0 -3.6l-3.6 3.6M515.95 147.43l3.6 3.6m0 -3.6l-3.6 3.6M518.78 147.43l3.6 3.6m0 -3.6l-3.6 3.6M521.60 147.43l3.6 3.6m0 -3.6l-3.6 3.6M524.43 147.43l3.6 3.6m0 -3.6l-3.6 3.6M527.25 147.43l3.6 3.6m0 -3.6l-3.6 3.6M530.08 147.43l3.6 3.6m0 -3.6l-3.6 3.6M532.90 107.33l3.6 3.6m0 -3.6l-3.6 3.6M535.73 107.83l3.6 3.6m0 -3.6l-3.6 3.6M538.55 108.44l3.6 3.6m0 -3.6l-3.6 3.6M541.38 109.05l3.6 3.6m0 -3.6l-3.6 3.6M544.20 147.43l3.6 3.6m0 -3.6l-3.6 3.6M547.03 147.43l3.6 3.6m0 -3.6l-3.6 3.6M549.85 147.43l3.6 3.6m0 -3.6l-3.6 3.6M552.68 147.43l3.6 3.6m0 -3.6l-3.6 3.6M555.50 147.43l3.6 3.6m0 -3.6l-3.6 3.6M558.33 147.43l3.6 3.6m0 -3.6l-3.6 3.6M561.15 147.43l3.6 3.6m0 -3.6l-3.6 3.6M563.98 147.43l3.6 3.6m0 -3.6l-3.6 3.6M566.80 108.81l3.6 3.6m0 -3.6l-3.6 3.6M569.62 109.30l3.6 3.6m0 -3.6l-3.6 3.6M572.45 109.67l3.6 3.6m0 -3.6l-3.6 3.6M575.28 110.04l3.6 3.6m0 -3.6l-3.6 3.6M578.10 147.43l3.6 3.6m0 -3.6l-3.6 3.6M580.93 147.43l3.6 3.6m0 -3.6l-3.6 3.6M583.75 147.43l3.6 3.6m0 -3.6l-3.6 3.6M586.58 147.43l3.6 3.6m0 -3.6l-3.6 3.6M589.40 147.43l3.6 3.6m0 -3.6l-3.6 3.6M592.23 147.43l3.6 3.6m0 -3.6l-3.6 3.6M595.05 147.43l3.6 3.6m0 -3.6l-3.6 3.6M597.88 147.43l3.6 3.6m0 -3.6l-3.6 3.6M600.70 29.35l3.6 3.6m0 -3.6l-3.6 3.6M603.53 30.95l3.6 3.6m0 -3.6l-3.6 3.6M606.35 32.43l3.6 3.6m0 -3.6l-3.6 3.6M609.18 33.90l3.6 3.6m0 -3.6l-3.6 3.6M612.00 147.43l3.6 3.6m0 -3.6l-3.6 3.6M614.83 147.43l3.6 3.6m0 -3.6l-3.6 3.6M617.65 147.43l3.6 3.6m0 -3.6l-3.6 3.6M620.48 147.43l3.6 3.6m0 -3.6l-3.6 3.6M623.30 147.43l3.6 3.6m0 -3.6l-3.6 3.6M626.12 147.43l3.6 3.6m0 -3.6l-3.6 3.6M628.95 147.43l3.6 3.6m0 -3.6l-3.6 3.6M631.78 147.43l3.6 3.6m0 -3.6l-3.6 3.6" stroke="#0000ff" stroke-width="1.15" fill="none"/>
<polyline points="365.20,149.20 368.02,149.12 370.85,148.90 373.68,148.58 376.50,148.21 379.32,147.85 382.15,147.57 384.97,147.42 387.80,147.33 390.62,146.76 393.45,145.77 396.27,144.63 399.10,143.64 401.93,143.07 404.75,143.03 407.57,143.26 410.40,143.67 413.23,144.13 416.05,144.54 418.88,144.77 421.70,144.77 424.52,144.52 427.35,144.10 430.18,143.60 433.00,143.18 435.82,142.93 438.65,142.91 441.48,142.99 444.30,143.12 447.12,143.28 449.95,143.41 452.77,143.49 455.60,143.40 458.43,142.64 461.25,141.31 464.07,139.79 466.90,138.46 469.73,137.70 472.55,137.65 475.38,138.00 478.20,138.60 481.02,139.30 483.85,139.90 486.68,140.25 489.50,140.19 492.32,139.32 495.15,137.82 497.98,136.08 500.80,134.58 503.62,133.71 506.45,133.66 509.27,134.10 512.10,134.86 514.92,135.74 517.75,136.50 520.58,136.94 523.40,136.90 526.23,136.12 529.05,134.78 531.88,133.22 534.70,131.88 537.52,131.10 540.35,131.06 543.17,131.51 546.00,132.30 548.83,133.20 551.65,133.99 554.48,134.44 557.30,134.39 560.12,133.52 562.95,132.02 565.77,130.28 568.60,128.78 571.42,127.91 574.25,127.90 577.08,128.62 579.90,129.88 582.73,131.32 585.55,132.58 588.38,133.30 591.20,133.27 594.02,132.24 596.85,130.47 599.67,128.43 602.50,126.66 605.33,125.63 608.15,125.60 610.98,126.39 613.80,127.76 616.62,129.34 619.45,130.71 622.27,131.50 625.10,131.45 627.92,130.34 630.75,128.41 633.58,126.19" fill="none" stroke="#ff0000" stroke-width="1.3"/>
<path d="M365.20 147.00v4.4M363.60 149.20h3.2M368.02 146.92v4.4M366.42 149.12h3.2M370.85 146.70v4.4M369.25 148.90h3.2M373.68 146.38v4.4M372.07 148.58h3.2M376.50 146.01v4.4M374.90 148.21h3.2M379.32 145.65v4.4M377.72 147.85h3.2M382.15 145.37v4.4M380.55 147.57h3.2M384.97 145.22v4.4M383.37 147.42h3.2M387.80 145.13v4.4M386.20 147.33h3.2M390.62 144.56v4.4M389.02 146.76h3.2M393.45 143.57v4.4M391.85 145.77h3.2M396.27 142.43v4.4M394.67 144.63h3.2M399.10 141.44v4.4M397.50 143.64h3.2M401.93 140.87v4.4M400.32 143.07h3.2M404.75 140.83v4.4M403.15 143.03h3.2M407.57 141.06v4.4M405.97 143.26h3.2M410.40 141.47v4.4M408.80 143.67h3.2M413.23 141.93v4.4M411.62 144.13h3.2M416.05 142.34v4.4M414.45 144.54h3.2M418.88 142.57v4.4M417.27 144.77h3.2M421.70 142.57v4.4M420.10 144.77h3.2M424.52 142.32v4.4M422.92 144.52h3.2M427.35 141.90v4.4M425.75 144.10h3.2M430.18 141.40v4.4M428.57 143.60h3.2M433.00 140.98v4.4M431.40 143.18h3.2M435.82 140.73v4.4M434.22 142.93h3.2M438.65 140.71v4.4M437.05 142.91h3.2M441.48 140.79v4.4M439.88 142.99h3.2M444.30 140.92v4.4M442.70 143.12h3.2M447.12 141.08v4.4M445.52 143.28h3.2M449.95 141.21v4.4M448.35 143.41h3.2M452.77 141.29v4.4M451.17 143.49h3.2M455.60 141.20v4.4M454.00 143.40h3.2M458.43 140.44v4.4M456.82 142.64h3.2M461.25 139.11v4.4M459.65 141.31h3.2M464.07 137.59v4.4M462.47 139.79h3.2M466.90 136.26v4.4M465.30 138.46h3.2M469.73 135.50v4.4M468.12 137.70h3.2M472.55 135.45v4.4M470.95 137.65h3.2M475.38 135.80v4.4M473.77 138.00h3.2M478.20 136.40v4.4M476.60 138.60h3.2M481.02 137.10v4.4M479.42 139.30h3.2M483.85 137.70v4.4M482.25 139.90h3.2M486.68 138.05v4.4M485.07 140.25h3.2M489.50 137.99v4.4M487.90 140.19h3.2M492.32 137.12v4.4M490.72 139.32h3.2M495.15 135.62v4.4M493.55 137.82h3.2M497.98 133.88v4.4M496.38 136.08h3.2M500.80 132.38v4.4M499.20 134.58h3.2M503.62 131.51v4.4M502.02 133.71h3.2M506.45 131.46v4.4M504.85 133.66h3.2M509.27 131.90v4.4M507.67 134.10h3.2M512.10 132.66v4.4M510.50 134.86h3.2M514.92 133.54v4.4M513.32 135.74h3.2M517.75 134.30v4.4M516.15 136.50h3.2M520.58 134.74v4.4M518.98 136.94h3.2M523.40 134.70v4.4M521.80 136.90h3.2M526.23 133.92v4.4M524.62 136.12h3.2M529.05 132.58v4.4M527.45 134.78h3.2M531.88 131.02v4.4M530.27 133.22h3.2M534.70 129.68v4.4M533.10 131.88h3.2M537.52 128.90v4.4M535.92 131.10h3.2M540.35 128.86v4.4M538.75 131.06h3.2M543.17 129.31v4.4M541.57 131.51h3.2M546.00 130.10v4.4M544.40 132.30h3.2M548.83 131.00v4.4M547.23 133.20h3.2M551.65 131.79v4.4M550.05 133.99h3.2M554.48 132.24v4.4M552.88 134.44h3.2M557.30 132.19v4.4M555.70 134.39h3.2M560.12 131.32v4.4M558.52 133.52h3.2M562.95 129.82v4.4M561.35 132.02h3.2M565.77 128.08v4.4M564.17 130.28h3.2M568.60 126.58v4.4M567.00 128.78h3.2M571.42 125.71v4.4M569.82 127.91h3.2M574.25 125.70v4.4M572.65 127.90h3.2M577.08 126.42v4.4M575.48 128.62h3.2M579.90 127.68v4.4M578.30 129.88h3.2M582.73 129.12v4.4M581.12 131.32h3.2M585.55 130.38v4.4M583.95 132.58h3.2M588.38 131.10v4.4M586.77 133.30h3.2M591.20 131.07v4.4M589.60 133.27h3.2M594.02 130.04v4.4M592.42 132.24h3.2M596.85 128.27v4.4M595.25 130.47h3.2M599.67 126.23v4.4M598.07 128.43h3.2M602.50 124.46v4.4M600.90 126.66h3.2M605.33 123.43v4.4M603.73 125.63h3.2M608.15 123.40v4.4M606.55 125.60h3.2M610.98 124.19v4.4M609.38 126.39h3.2M613.80 125.56v4.4M612.20 127.76h3.2M616.62 127.14v4.4M615.02 129.34h3.2M619.45 128.51v4.4M617.85 130.71h3.2M622.27 129.30v4.4M620.67 131.50h3.2M625.10 129.25v4.4M623.50 131.45h3.2M627.92 128.14v4.4M626.32 130.34h3.2M630.75 126.21v4.4M629.15 128.41h3.2M633.58 123.99v4.4M631.98 126.19h3.2" stroke="#ff0000" stroke-width="1.0" fill="none"/>
<rect x="362.7" y="2.0" width="271.30" height="160.80" fill="none" stroke="#1a1a1a" stroke-width="1.3"/>
<rect x="371.3" y="7.2" width="207.9" height="46" fill="#fff" stroke="#1a1a1a" stroke-width="1.2"/>
<path d="M377.7 19.3H410.6" stroke="#ff0000" stroke-width="1.2"/><path d="M394.1 16.4v5.8" stroke="#ff0000" stroke-width="1.1"/>
<path d="M377.7 38.7H410.6" stroke="#0000ff" stroke-width="1.2"/><path d="M392.4 37.0l3.4 3.4m0 -3.4l-3.4 3.4" stroke="#0000ff" stroke-width="1.2"/>
<text x="425.6" y="21.3" font-family="Liberation Mono" font-size="9.7" fill="#555" textLength="133.2" lengthAdjust="spacingAndGlyphs">RNN-A Attention weights</text>
<text x="415.5" y="42.6" font-family="Liberation Mono" font-size="9.7" fill="#555" textLength="22.4" lengthAdjust="spacingAndGlyphs">RNN-</text>
<text x="438.9" y="42.6" font-family="Liberation Serif" font-size="11.5" font-weight="bold" fill="#333">π</text>
<text x="447.3" y="40.1" font-family="Liberation Serif" font-size="11" fill="#333" textLength="15.8" lengthAdjust="spacingAndGlyphs">(2)</text>
<text x="471.2" y="42.6" font-family="Liberation Mono" font-size="9.7" fill="#555" textLength="97.5" lengthAdjust="spacingAndGlyphs">Attention weights</text>
<text x="399.70" y="175.9" font-family="Liberation Serif" font-size="10.3" text-anchor="middle" fill="#000" textLength="22.4" lengthAdjust="spacingAndGlyphs">7days</text>
<text x="433.55" y="175.9" font-family="Liberation Serif" font-size="10.3" text-anchor="middle" fill="#000" textLength="24.8" lengthAdjust="spacingAndGlyphs">6 days</text>
<text x="467.40" y="175.9" font-family="Liberation Serif" font-size="10.3" text-anchor="middle" fill="#000" textLength="24.8" lengthAdjust="spacingAndGlyphs">5 days</text>
<text x="501.25" y="175.9" font-family="Liberation Serif" font-size="10.3" text-anchor="middle" fill="#000" textLength="24.8" lengthAdjust="spacingAndGlyphs">4 days</text>
<text x="535.10" y="175.9" font-family="Liberation Serif" font-size="10.3" text-anchor="middle" fill="#000" textLength="24.8" lengthAdjust="spacingAndGlyphs">3 days</text>
<text x="568.95" y="175.9" font-family="Liberation Serif" font-size="10.3" text-anchor="middle" fill="#000" textLength="24.8" lengthAdjust="spacingAndGlyphs">2 days</text>
<text x="602.80" y="175.9" font-family="Liberation Serif" font-size="10.3" text-anchor="middle" fill="#000" textLength="19.7" lengthAdjust="spacingAndGlyphs">1 day</text>
<text x="356.2" y="155" font-family="Liberation Serif" font-size="10.6" text-anchor="end" fill="#000">0</text>
<text x="356.6" y="91.8" font-family="Liberation Serif" font-size="10" text-anchor="end" fill="#000" textLength="17" lengthAdjust="spacingAndGlyphs">0.05</text>
<text x="356.3" y="30.7" font-family="Liberation Serif" font-size="10" text-anchor="end" fill="#000" textLength="11.8" lengthAdjust="spacingAndGlyphs">0.1</text>
<text x="497.7" y="194.3" font-family="Liberation Serif" font-size="17.5" text-anchor="middle" fill="#000">History</text>
<g transform="translate(336.8 162.3) rotate(-90)"><text x="0" y="0" font-size="17.5" fill="#000"><tspan font-family="Liberation Mono" font-size="16" fill="#555">PSE</tspan><tspan font-family="Liberation Serif" dx="5">Attention weights</tspan></text></g>
<text x="19.2" y="216.3" font-family="Liberation Serif" font-size="17" font-weight="bold" font-style="normal" fill="#000" textLength="26.6" lengthAdjust="spacingAndGlyphs">Fig.</text>
<text x="48.8" y="216.3" font-family="Liberation Serif" font-size="17" font-weight="bold" font-style="normal" fill="#000" >2.</text>
<text x="67.0" y="216.3" font-family="Liberation Serif" font-size="17" font-weight="normal" font-style="normal" fill="#000" >Autocorrelation</text>
<text x="181.4" y="216.3" font-family="Liberation Serif" font-size="17" font-weight="normal" font-style="normal" fill="#000" >of</text>
<text x="200.8" y="216.2" font-family="Liberation Mono" font-size="14.5" font-weight="normal" font-style="normal" fill="#000" textLength="29.4" lengthAdjust="spacingAndGlyphs" fill-opacity="0.62">PSE</text>
<text x="238.4" y="216.3" font-family="Liberation Serif" font-size="17" font-weight="normal" font-style="normal" fill="#000" >(left).</text>
<text x="282.8" y="216.3" font-family="Liberation Serif" font-size="17" font-weight="normal" font-style="normal" fill="#000" >RNN-A</text>
<text x="341.8" y="216.3" font-family="Liberation Serif" font-size="17" font-weight="normal" font-style="normal" fill="#000" >and</text>
<text x="373.0" y="216.3" font-family="Liberation Serif" font-size="17" font-weight="normal" font-style="normal" fill="#000" >RNN-</text>
<text x="414.2" y="216.3" font-family="Liberation Serif" font-size="17" font-weight="normal" font-style="italic" fill="#000" >π</text>
<text x="424.4" y="210.2" font-family="Liberation Serif" font-size="12" font-weight="normal" font-style="normal" fill="#000" textLength="18" lengthAdjust="spacingAndGlyphs">(2)</text>
<text x="448.6" y="216.3" font-family="Liberation Serif" font-size="17" font-weight="normal" font-style="normal" fill="#000" textLength="63.4" lengthAdjust="spacing">attention</text>
<text x="515.0" y="216.3" font-family="Liberation Serif" font-size="17" font-weight="normal" font-style="normal" fill="#000" >weights</text>
<text x="573.0" y="216.3" font-family="Liberation Serif" font-size="17" font-weight="normal" font-style="normal" fill="#000" >(right).</text>
<text x="28.9" y="245.6" font-family="Liberation Serif" font-size="17" fill="#000">l</text>
<text x="33.9" y="245.6" font-family="Liberation Serif" font-size="17" fill="#000">l</text>
<text x="126.4" y="245.6" font-family="Liberation Serif" font-size="17" fill="#000">l</text>
<text x="174.5" y="245.6" font-family="Liberation Serif" font-size="17" fill="#000">l</text>
<text x="249.5" y="245.6" font-family="Liberation Serif" font-size="17" fill="#000">l</text>
<text x="276.4" y="245.6" font-family="Liberation Serif" font-size="17" fill="#000">l</text>
<text x="332.0" y="245.6" font-family="Liberation Serif" font-size="17" fill="#000">l</text>
<text x="380.1" y="245.6" font-family="Liberation Serif" font-size="17" fill="#000">l</text>
<text x="538.9" y="245.6" font-family="Liberation Serif" font-size="17" fill="#000">l</text>
<text x="635.1" y="245.6" font-family="Liberation Serif" font-size="17" fill="#000">l</text>
<text x="185.9" y="245.6" font-family="Liberation Serif" font-size="17" fill="#000">f</text>
<text x="494.0" y="245.6" font-family="Liberation Serif" font-size="17" fill="#000">f</text>
<text x="359.0" y="245.6" font-family="Liberation Serif" font-size="17" fill="#000">)</text>
</svg>
</body></html>
